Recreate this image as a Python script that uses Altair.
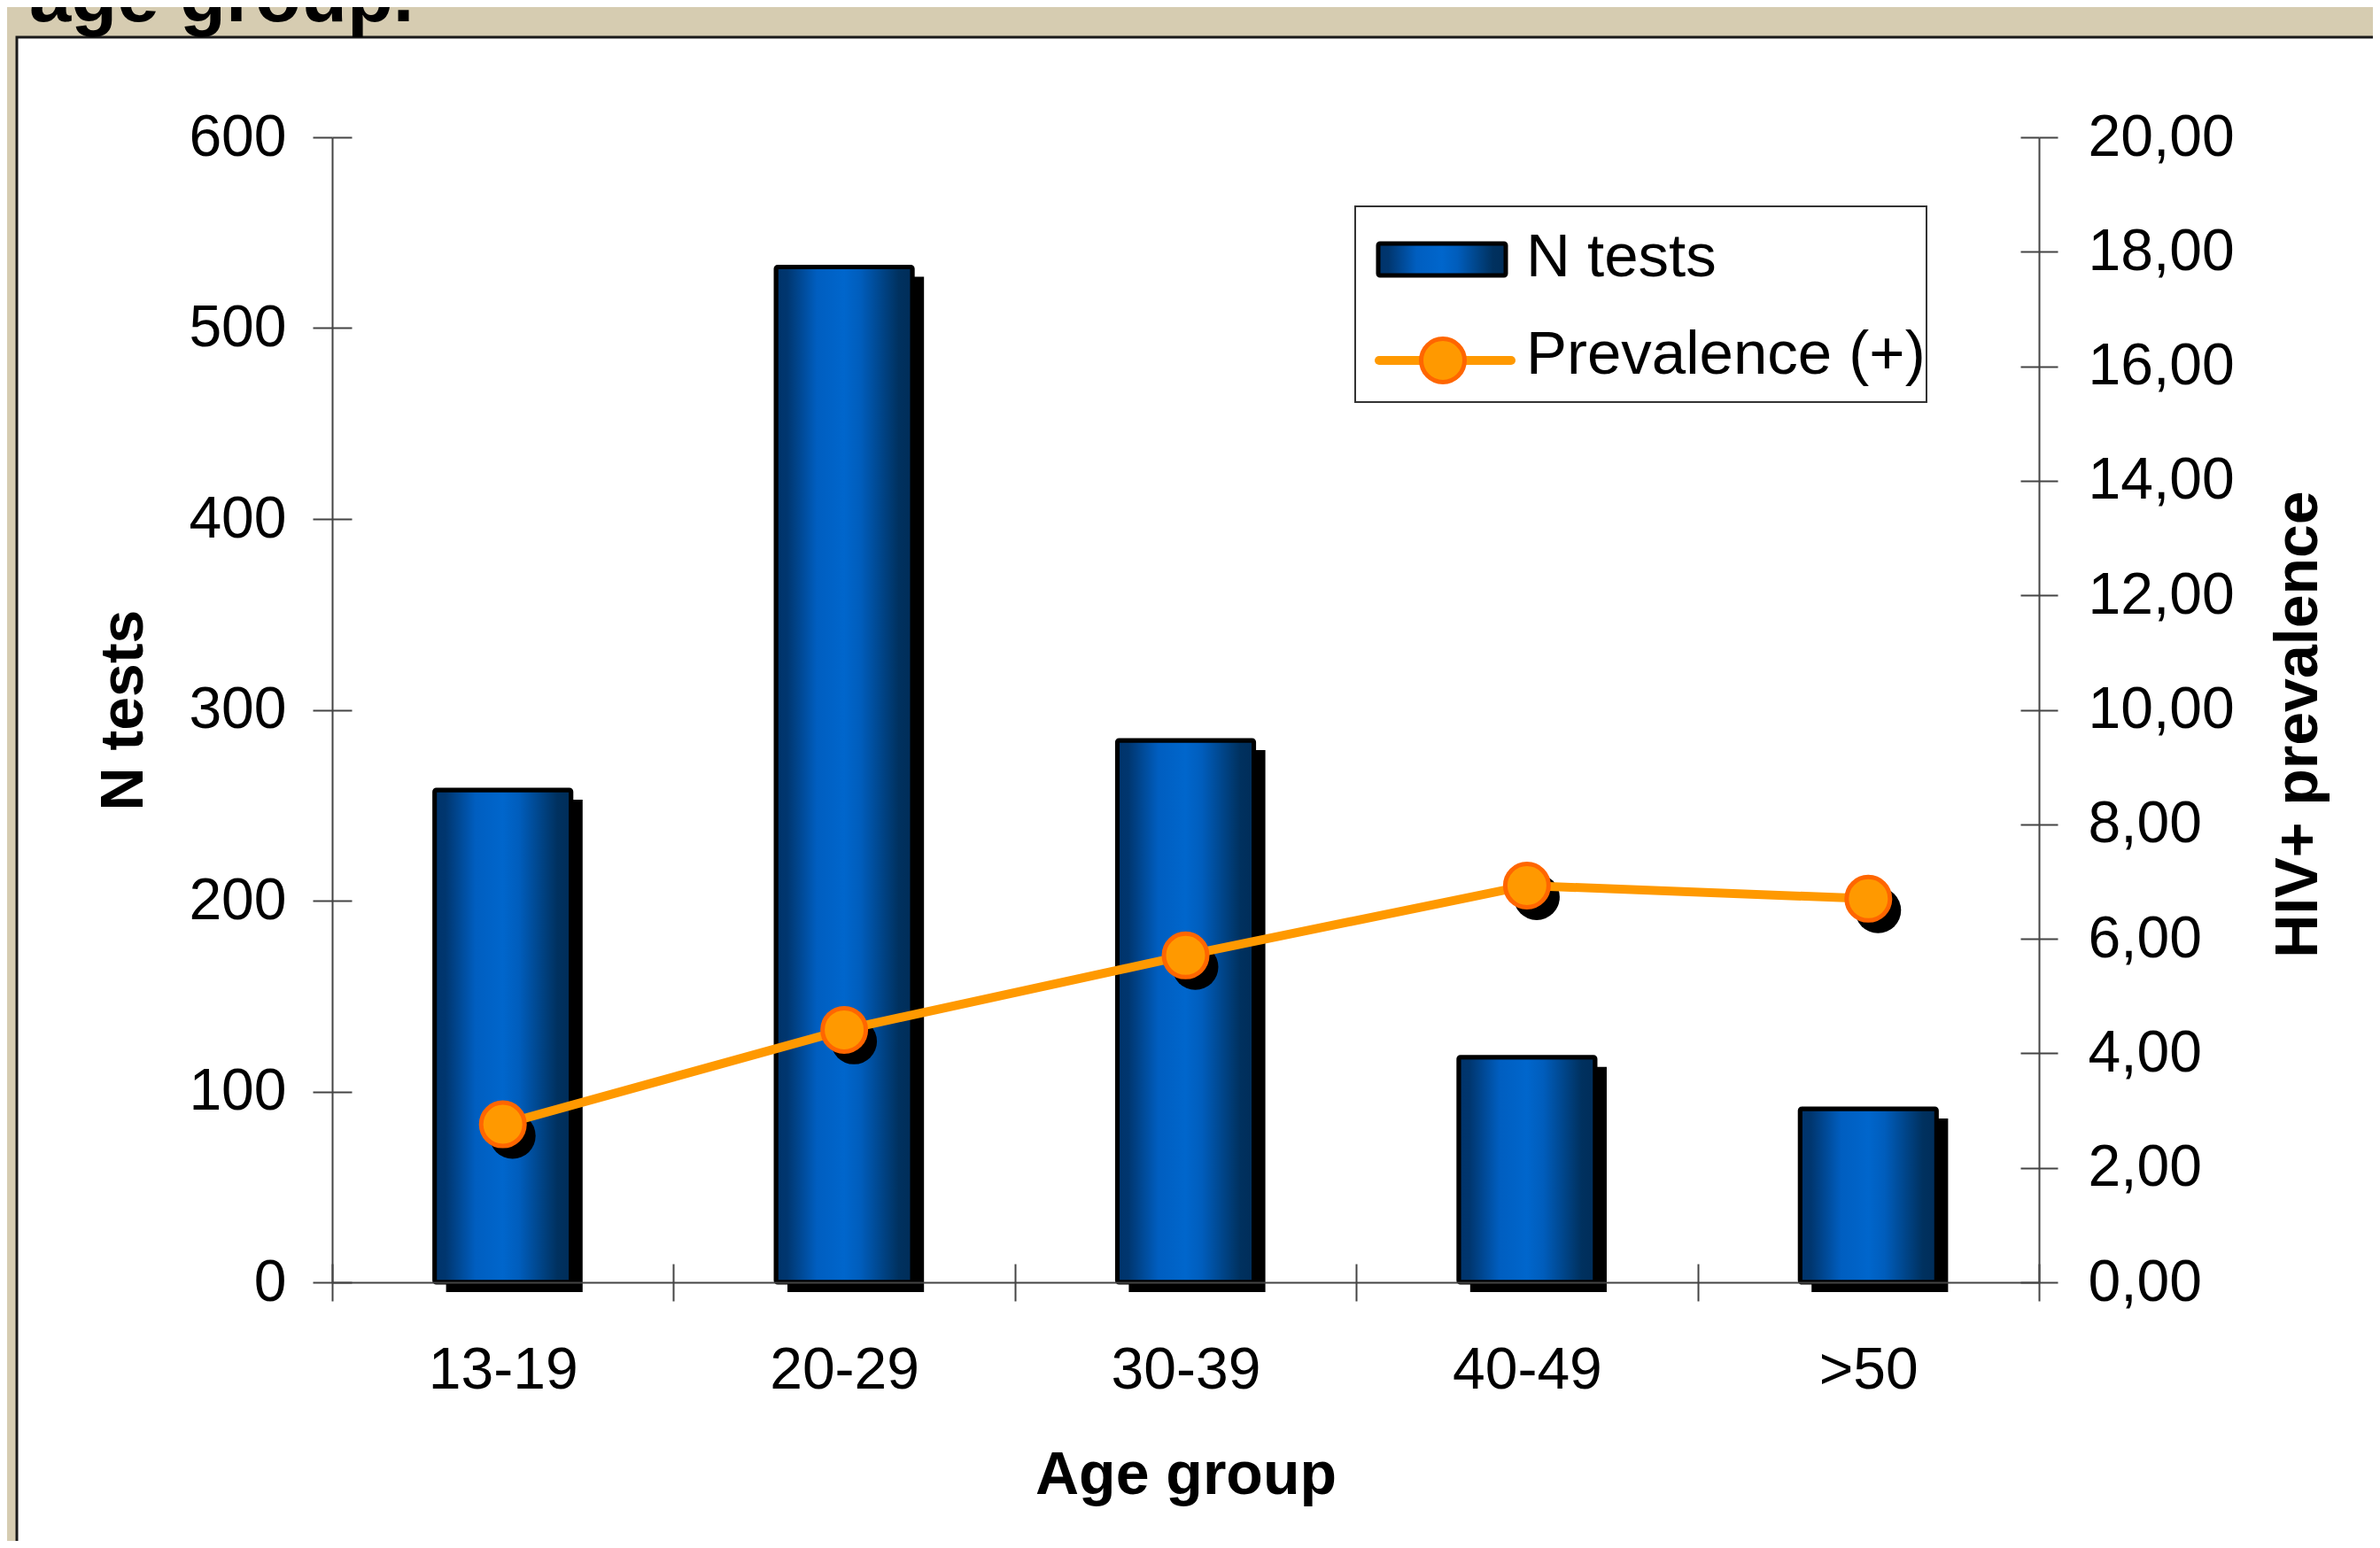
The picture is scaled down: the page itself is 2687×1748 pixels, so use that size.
import altair as alt
import pandas as pd

# ---- data ----
ages = ["13-19", "20-29", "30-39", "40-49", ">50"]
n_tests = [258, 532, 284, 118, 91]
prevalence = [2.76, 4.41, 5.71, 6.93, 6.70]
left_ticks = [0, 100, 200, 300, 400, 500, 600]
right_ticks = [0, 2, 4, 6, 8, 10, 12, 14, 16, 18, 20]
legend_labels = ["N tests", "Prevalence (+)"]
title_text = "age group."

df = pd.DataFrame({"age": ages, "n": n_tests, "prev": prevalence})
one = pd.DataFrame({"k": [0]})

W, H = 1927, 1293
FONT = "Liberation Sans"
BG = "#D6CCB1"
AX = "#444444"

grad = {
    "gradient": "linear", "x1": 0, "x2": 1, "y1": 0, "y2": 0,
    "stops": [
        {"offset": 0.0, "color": "#00336A"},
        {"offset": 0.08, "color": "#00366F"},
        {"offset": 0.30, "color": "#005EC0"},
        {"offset": 0.50, "color": "#0066CC"},
        {"offset": 0.62, "color": "#005DBC"},
        {"offset": 0.90, "color": "#00315F"},
        {"offset": 1.0, "color": "#002D59"},
    ],
}

xscale = alt.Scale(domain=ages, paddingInner=0, paddingOuter=0)
yl = alt.Scale(domain=[0, 600], nice=False, zero=True)
yr = alt.Scale(domain=[0, 20], nice=False, zero=True)

lab = dict(labelFont=FONT, labelFontSize=66, labelColor="black",
           titleFont=FONT, titleFontSize=68, titleFontWeight="bold", titleColor="black",
           tickColor=AX, tickWidth=2, domainColor=AX, domainWidth=2, grid=False, zindex=1)
inner = dict(labels=False, domain=False, title=None, tickColor=AX, tickWidth=2,
             grid=False, zindex=1)

x_main = alt.Axis(orient="bottom", title="Age group", labelAngle=0, tickBand="extent",
                  tickSize=21, labelPadding=46, titlePadding=52, **lab)
x_inner = alt.Axis(orient="bottom", tickBand="extent", tickSize=21, offset=-21, **inner)
yl_main = alt.Axis(orient="left", values=left_ticks, title="N tests", tickSize=22,
                   labelPadding=30, titlePadding=38, **lab)
yl_inner = alt.Axis(orient="left", values=left_ticks, tickSize=22, offset=-22, **inner)
yr_main = alt.Axis(orient="right", values=right_ticks, title="HIV+ prevalence",
                   labelExpr="replace(format(datum.value, '.2f'), '.', ',')",
                   titleAngle=270, titleBaseline="top", titleY=H / 2 + 16,
                   tickSize=21, labelPadding=34, titlePadding=59, **lab)
yr_inner = alt.Axis(orient="right", values=right_ticks, tickSize=21, offset=-21, **inner)

base = alt.Chart(df)

panel = alt.Chart(one).mark_rect(fill="white", stroke="#1a1a1a", strokeWidth=3).encode(
    x=alt.value(-356), x2=alt.value(W + 500), y=alt.value(-113), y2=alt.value(H + 500))

title = alt.Chart(one).mark_text(
    text=title_text, font=FONT, fontSize=85, fontWeight="bold", align="left",
    baseline="alphabetic", color="black").encode(x=alt.value(-342), y=alt.value(-131))

bar_shadow = base.mark_bar(color="black", width={"band": 0.4}, xOffset=13,
                           yOffset=11, y2Offset=3).encode(
    x=alt.X("age:N", sort=ages, scale=xscale, axis=x_main),
    y=alt.Y("n:Q", scale=yl, axis=yl_main))

bars = base.mark_bar(fill=grad, stroke="black", strokeWidth=5, cornerRadius=2,
                     width={"band": 0.4}).encode(
    x=alt.X("age:N", sort=ages, scale=xscale, axis=x_inner),
    y=alt.Y("n:Q", scale=yl, axis=yl_inner))

pt_shadow = base.mark_point(shape="circle", filled=True, color="black", opacity=1,
                            size=2700, xOffset=11, yOffset=13).encode(
    x=alt.X("age:N", sort=ages, scale=xscale, axis=None),
    y=alt.Y("prev:Q", scale=yr, axis=yr_main))

line = base.mark_line(color="#FF9900", strokeWidth=10).encode(
    x=alt.X("age:N", sort=ages, scale=xscale, axis=None),
    y=alt.Y("prev:Q", scale=yr, axis=yr_inner))

points = base.mark_point(shape="circle", filled=True, fill="#FF9900", stroke="#FF6600",
                         strokeWidth=5, opacity=1, size=2400).encode(
    x=alt.X("age:N", sort=ages, scale=xscale, axis=None),
    y=alt.Y("prev:Q", scale=yr, axis=None))

# ---- legend (hand-drawn box) ----
leg_box = alt.Chart(one).mark_rect(fill="white", stroke="#333333", strokeWidth=2).encode(
    x=alt.value(1155), x2=alt.value(1800), y=alt.value(78), y2=alt.value(299))
leg_sw = alt.Chart(one).mark_rect(fill=grad, stroke="black", strokeWidth=5,
                                  cornerRadius=2).encode(
    x=alt.value(1181), x2=alt.value(1325), y=alt.value(120), y2=alt.value(156))
leg_line = alt.Chart(one).mark_rule(color="#FF9900", strokeWidth=10, strokeCap="round").encode(
    x=alt.value(1182), x2=alt.value(1331), y=alt.value(252))
leg_pt = alt.Chart(one).mark_point(shape="circle", filled=True, fill="#FF9900",
                                   stroke="#FF6600", strokeWidth=5, opacity=1,
                                   size=2400).encode(x=alt.value(1254), y=alt.value(252))
leg_t1 = alt.Chart(one).mark_text(text=legend_labels[0], font=FONT, fontSize=69,
                                  align="left", baseline="alphabetic", color="black").encode(
    x=alt.value(1348), y=alt.value(157))
leg_t2 = alt.Chart(one).mark_text(text=legend_labels[1], font=FONT, fontSize=69,
                                  align="left", baseline="alphabetic", color="black").encode(
    x=alt.value(1348), y=alt.value(267))

chart = alt.layer(
    panel, title, bar_shadow, bars, pt_shadow, line, points,
    leg_box, leg_sw, leg_line, leg_pt, leg_t1, leg_t2,
).resolve_scale(y="independent").resolve_axis(x="independent", y="independent").properties(
    width=W, height=H,
    autosize=alt.AutoSizeParams(type="none"),
    padding={"left": 367, "top": 147, "right": 377, "bottom": 292},
    background=BG,
).configure_view(stroke=None)

chart.save("out.html", embed_options={"renderer": "svg", "actions": False})
